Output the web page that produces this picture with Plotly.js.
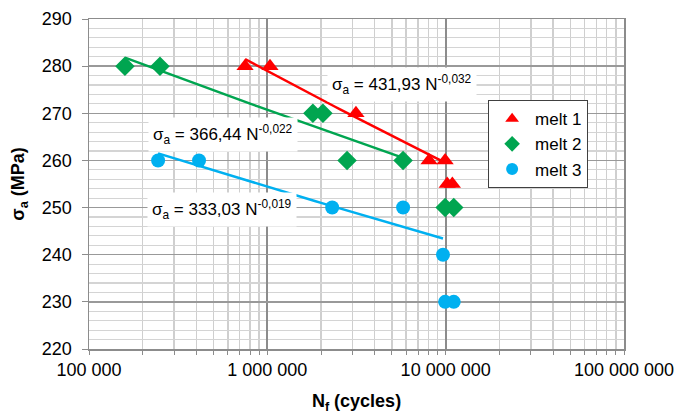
<!DOCTYPE html>
<html>
<head>
<meta charset="utf-8">
<script src="https://cdn.plot.ly/plotly-3.0.1.min.js"></script>
<style>html,body{margin:0;padding:0;background:#fff;}#chart{width:680px;height:414px;}</style>
</head>
<body>
<div id="chart"></div>
<script>
// ---- data ----
var seriesNames = ['melt 1', 'melt 2', 'melt 3'];
var melt1N = [750000, 1035000, 3140000, 8070000, 9930000, 10200000, 10900000];
var melt1S = [280, 280, 270, 260, 260, 255, 255];
var melt1Fit = [1, 1, 1, 1, 1, 0, 0];
var melt2N = [159000, 250000, 1800000, 2050000, 2800000, 5770000, 9930000, 11100000];
var melt2S = [280, 280, 270, 270, 260, 260, 250, 250];
var melt2Fit = [1, 1, 1, 1, 1, 1, 0, 0];
var melt3N = [244000, 414000, 2310000, 5770000, 9660000, 9930000, 11100000];
var melt3S = [260, 260, 250, 250, 240, 230, 230];
var melt3Fit = [1, 1, 1, 1, 1, 0, 0];
var eqCoef = ['431,93', '366,44', '333,03'];
var eqExp = ['-0,032', '-0,022', '-0,019'];
var xTickVals = [1e5, 1e6, 1e7, 1e8];
var xTickText = ['100 000', '1 000 000', '10 000 000', '100 000 000'];
var yTickVals = [220, 230, 240, 250, 260, 270, 280, 290];

var colors = ['#ff0000', '#00a550', '#00b0f0'];
var symbols = ['triangle-up', 'diamond', 'circle'];
var sizes = [15, 15, 14];

// power-law trendline (least squares on log-log), like a spreadsheet trendline
function powerFit(N, S, use) {
  var xs = [], ys = [];
  for (var i = 0; i < N.length; i++) if (use[i]) { xs.push(Math.log(N[i])); ys.push(Math.log(S[i])); }
  var n = xs.length, mx = 0, my = 0;
  for (i = 0; i < n; i++) { mx += xs[i]; my += ys[i]; }
  mx /= n; my /= n;
  var sxy = 0, sxx = 0;
  for (i = 0; i < n; i++) { sxy += (xs[i] - mx) * (ys[i] - my); sxx += (xs[i] - mx) * (xs[i] - mx); }
  var b = sxy / sxx, lna = my - b * mx;
  var x0 = Math.min.apply(null, xs), x1 = Math.max.apply(null, xs);
  var lx = [], ly = [];
  for (i = 0; i <= 40; i++) {
    var lxv = x0 + (x1 - x0) * i / 40;
    lx.push(Math.exp(lxv)); ly.push(Math.exp(lna + b * lxv));
  }
  return {x: lx, y: ly};
}

var Ns = [melt1N, melt2N, melt3N], Ss = [melt1S, melt2S, melt3S], Fs = [melt1Fit, melt2Fit, melt3Fit];
var traces = [];
for (var k = 0; k < 3; k++) {
  var f = powerFit(Ns[k], Ss[k], Fs[k]);
  traces.push({x: f.x, y: f.y, mode: 'lines', line: {color: colors[k], width: 2.5}, showlegend: false, hoverinfo: 'skip'});
}
for (k = 0; k < 3; k++) {
  traces.push({x: Ns[k], y: Ss[k], mode: 'markers', name: seriesNames[k],
    marker: {color: colors[k], symbol: symbols[k], size: sizes[k], line: {width: 0}}});
}

var font = 'Liberation Sans, Arial, sans-serif';
var eqPos = [[6.755, 276.2], [5.752, 265.4], [5.746, 249.6]];
var annotations = [];
for (k = 0; k < 3; k++) {
  annotations.push({
    x: eqPos[k][0], y: eqPos[k][1], xref: 'x', yref: 'y', showarrow: false,
    text: 'σ<sub>a</sub> = ' + eqCoef[k] + ' N<sup>' + eqExp[k] + '</sup>',
    font: {family: font, size: 17, color: '#000'}, bgcolor: '#ffffff', borderpad: 4
  });
}

var layout = {
  width: 680, height: 414,
  margin: {l: 89, r: 56, t: 19, b: 65},
  paper_bgcolor: '#fff', plot_bgcolor: '#fff',
  font: {family: font, size: 18, color: '#000'},
  showlegend: true,
  legend: {x: 0.746, y: 0.754, xanchor: 'left', yanchor: 'top', bgcolor: '#fff',
    bordercolor: '#404040', borderwidth: 1, font: {family: font, size: 17},
    tracegroupgap: 0, itemsizing: 'constant', itemwidth: 36},
  xaxis: {
    type: 'log', range: [5, 8], tickvals: xTickVals, ticktext: xTickText,
    showgrid: true, gridcolor: '#8c8c8c', gridwidth: 2,
    showline: true, linecolor: '#8c8c8c', linewidth: 1.5, mirror: true,
    ticks: 'outside', ticklen: 4, tickcolor: '#8c8c8c', zeroline: false,
    tickfont: {family: font, size: 18},
    minor: {dtick: 'D1', showgrid: true, gridcolor: '#cfcfcf', gridwidth: 1.5, ticks: 'outside', ticklen: 4, tickcolor: '#8c8c8c'},
    title: {text: '<b>N<sub>f</sub> (cycles)</b>', font: {family: font, size: 18}, standoff: 18}
  },
  yaxis: {
    range: [220, 290], tickvals: yTickVals,
    showgrid: true, gridcolor: '#999999', gridwidth: 1.5,
    showline: true, linecolor: '#8c8c8c', linewidth: 1.5, mirror: true,
    ticks: 'outside', ticklen: 6, tickcolor: '#8c8c8c', zeroline: false,
    tickfont: {family: font, size: 18}, ticklabelstandoff: 6,
    minor: {dtick: 2, showgrid: true, gridcolor: '#d4d4d4', gridwidth: 1.2},
    title: {text: '<b>σ<sub>a</sub> (MPa)</b>', font: {family: font, size: 18}, standoff: 12}
  },
  annotations: annotations
};

Plotly.newPlot('chart', traces, layout, {staticPlot: true, displayModeBar: false});
</script>
</body>
</html>
